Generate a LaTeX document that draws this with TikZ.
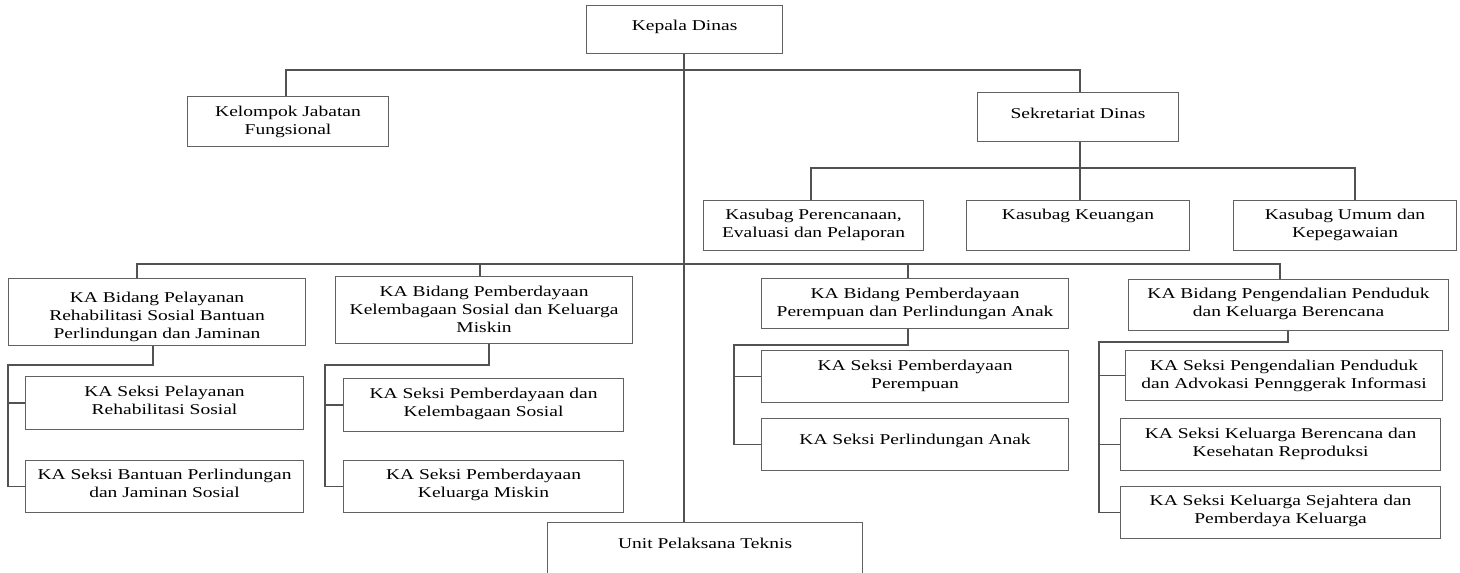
\documentclass[tikz,border=0pt]{standalone}
\usepackage{fontspec}
\setmainfont{Liberation Serif}[FakeStretch=1.3]
% \orgbox{name}{x1}{y1}{x2}{y2}{top padding}{text}: framed box, text set from the top
\newcommand\orgbox[7]{%
  \node[orgframe] (#1) at (#2,#3)
    {\parbox[c][\dimexpr #5pt-#3pt\relax][t]{\dimexpr #4pt-#2pt\relax}{\centering\vspace*{#6pt}#7\par}};}
\begin{document}
\begin{tikzpicture}[x=1pt,y=-1pt,
  orgframe/.style={draw=black!62, line width=1.1pt, inner sep=0pt, anchor=north west,
                   font=\fontsize{15}{18}\selectfont},
  conn/.style={draw=black!68, line width=1.2pt}]
\useasboundingbox (0,0) rectangle (1460,573);

% top levels
\orgbox{kd}{586}{5}{782}{53}{15}{Kepala Dinas}
\orgbox{kjf}{187}{96}{388}{146}{10}{Kelompok Jabatan\\Fungsional}
\orgbox{sek}{977}{92}{1178}{141}{16}{Sekretariat Dinas}
\orgbox{ksp}{703}{200}{923}{250}{9}{Kasubag Perencanaan,\\Evaluasi dan Pelaporan}
\orgbox{ksk}{966}{200}{1189}{250}{9}{Kasubag Keuangan}
\orgbox{ksu}{1233}{200}{1456}{250}{9}{Kasubag Umum dan\\Kepegawaian}

% bidang
\orgbox{b1}{8}{278}{305}{345}{14}{KA Bidang Pelayanan\\Rehabilitasi Sosial Bantuan\\Perlindungan dan Jaminan}
\orgbox{b2}{335}{276}{632}{343}{10}{KA Bidang Pemberdayaan\\Kelembagaan Sosial dan Keluarga\\Miskin}
\orgbox{b3}{761}{278}{1068}{328}{10}{KA Bidang Pemberdayaan\\Perempuan dan Perlindungan Anak}
\orgbox{b4}{1128}{279}{1448}{330}{9}{KA Bidang Pengendalian Penduduk\\dan Keluarga Berencana}

% seksi
\orgbox{s11}{25}{376}{303}{429}{10}{KA Seksi Pelayanan\\Rehabilitasi Sosial}
\orgbox{s12}{25}{460}{303}{512}{9}{KA Seksi Bantuan Perlindungan\\dan Jaminan Sosial}
\orgbox{s21}{343}{378}{623}{431}{10}{KA Seksi Pemberdayaan dan\\Kelembagaan Sosial}
\orgbox{s22}{343}{460}{623}{512}{9}{KA Seksi Pemberdayaan\\Keluarga Miskin}
\orgbox{s31}{761}{350}{1068}{402}{10}{KA Seksi Pemberdayaan\\Perempuan}
\orgbox{s32}{761}{418}{1068}{470}{16}{KA Seksi Perlindungan Anak}
\orgbox{s41}{1125}{350}{1442}{400}{10}{KA Seksi Pengendalian Penduduk\\dan Advokasi Pennggerak Informasi}
\orgbox{s42}{1120}{418}{1440}{470}{10}{KA Seksi Keluarga Berencana dan\\Kesehatan Reproduksi}
\orgbox{s43}{1120}{486}{1440}{538}{9}{KA Seksi Keluarga Sejahtera dan\\Pemberdaya Keluarga}

% unit at the bottom, running off the lower edge
\orgbox{upt}{547}{522}{862}{590}{16}{Unit Pelaksana Teknis}

% junction points
\coordinate (jl) at (286,70);
\coordinate (jr) at (1080,70);
\coordinate (trunk) at (684,70);
\coordinate (sl) at (811,168);
\coordinate (sr) at (1355,168);
\coordinate (bl) at (137,264);
\coordinate (br) at (1280,264);
\coordinate (b2t) at (480,264);
\coordinate (b3t) at (908,264);
\coordinate (g1) at (153,365);
\coordinate (g1l) at (8,365);
\coordinate (g2) at (489,365);
\coordinate (g2l) at (325,365);
\coordinate (g3) at (908,345);
\coordinate (g3l) at (734,345);
\coordinate (g4) at (1288,342);
\coordinate (g4l) at (1099,342);

% main trunk and upper bar
\draw[conn] (kd.south -| trunk) -- (upt.north -| trunk);
\draw[conn] (kjf.north -| jl) -- (jl) -- (jr) -- (sek.north -| jr);

% secretariat branch
\draw[conn] (sek.south -| jr) -- (jr |- sl);
\draw[conn] (ksp.north -| sl) -- (sl) -- (sr) -- (ksu.north -| sr);
\draw[conn] (jr |- sl) -- (ksk.north -| jr);

% bar to the bidang
\draw[conn] (b1.north -| bl) -- (bl) -- (br) -- (b4.north -| br);
\draw[conn] (b2t) -- (b2.north -| b2t);
\draw[conn] (b3t) -- (b3.north -| b3t);

% seksi under each bidang
\draw[conn] (b1.south -| g1) -- (g1) -- (g1l) -- (g1l |- s12.west) -- (s12.west);
\draw[conn] (g1l |- s11.west) -- (s11.west);
\draw[conn] (b2.south -| g2) -- (g2) -- (g2l) -- (g2l |- s22.west) -- (s22.west);
\draw[conn] (g2l |- s21.west) -- (s21.west);
\draw[conn] (b3.south -| g3) -- (g3) -- (g3l) -- (g3l |- s32.west) -- (s32.west);
\draw[conn] (g3l |- s31.west) -- (s31.west);
\draw[conn] (b4.south -| g4) -- (g4) -- (g4l) -- (g4l |- s43.west) -- (s43.west);
\draw[conn] (g4l |- s41.west) -- (s41.west);
\draw[conn] (g4l |- s42.west) -- (s42.west);
\end{tikzpicture}
\end{document}
